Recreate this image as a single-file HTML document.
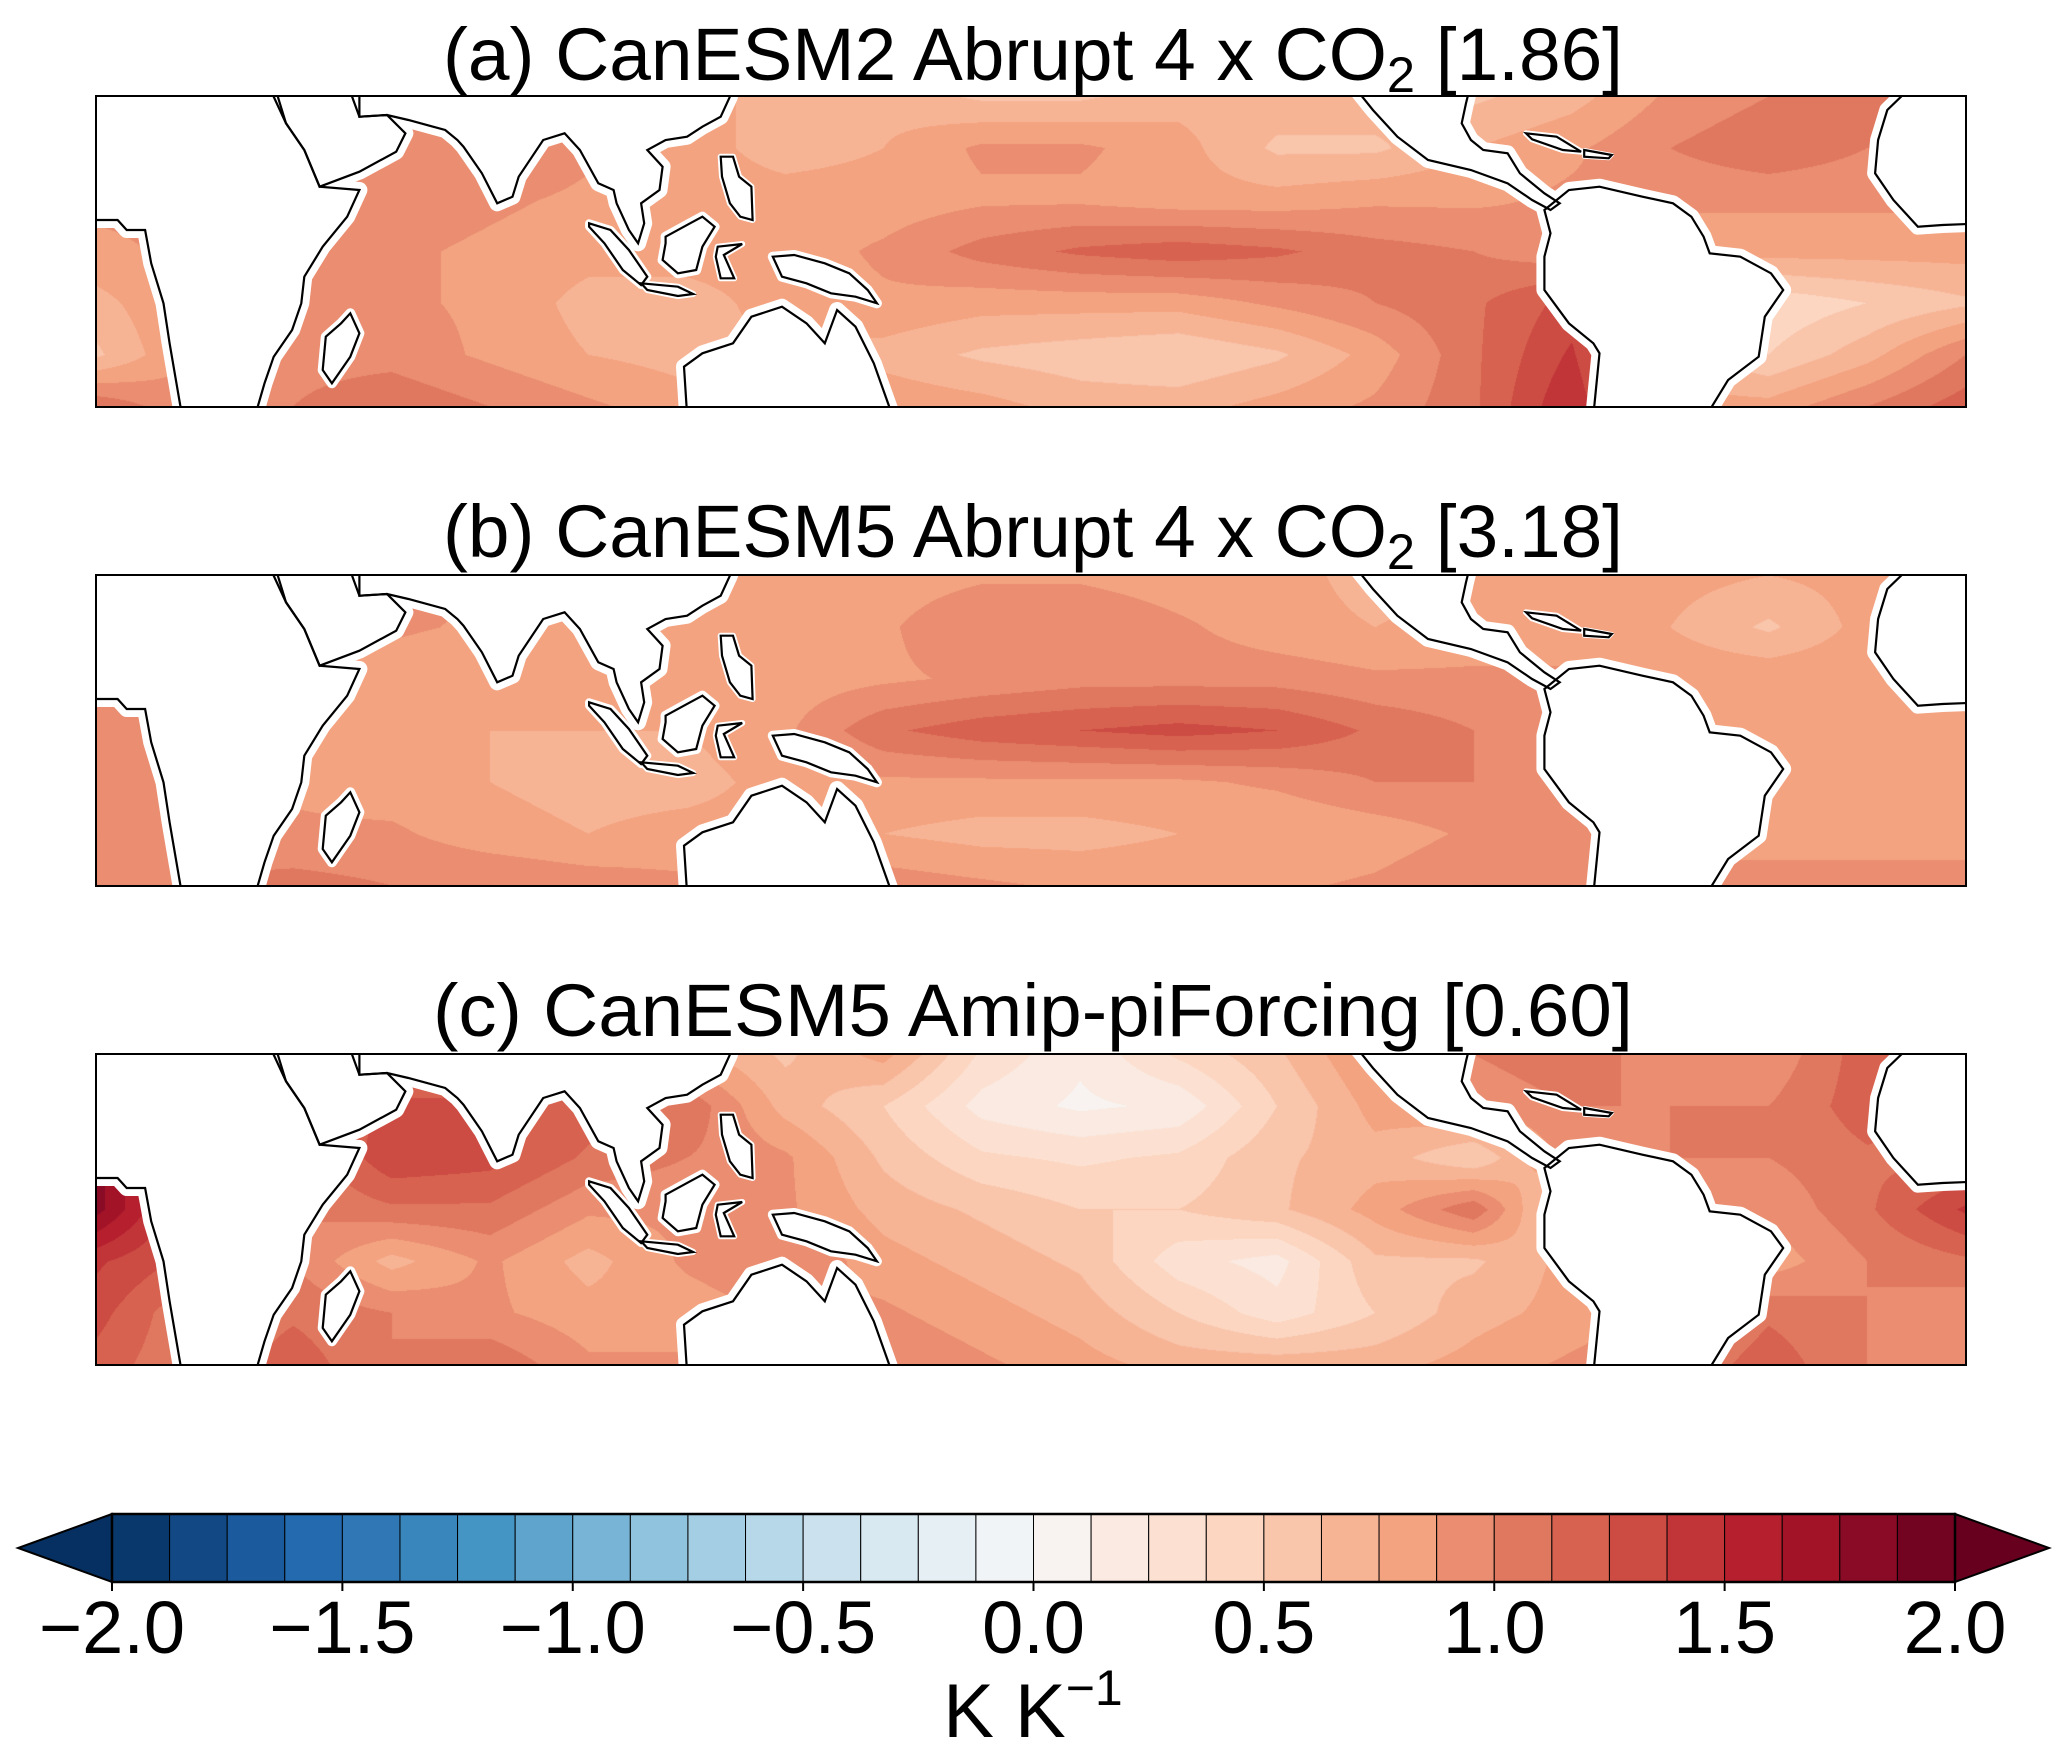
<!DOCTYPE html>
<html><head><meta charset="utf-8"><style>
html,body{margin:0;padding:0;background:#fff;}
#root{position:relative;width:2067px;height:1749px;overflow:hidden;font-family:"Liberation Sans",sans-serif;}
canvas{position:absolute;}
svg{position:absolute;left:0;top:0;}
</style></head><body>
<div id="root">
<canvas id="cva" width="1870" height="311" style="left:96px;top:96px"></canvas>
<canvas id="cvb" width="1870" height="311" style="left:96px;top:575px"></canvas>
<canvas id="cvc" width="1870" height="311" style="left:96px;top:1054px"></canvas>
<svg id="ov" width="2067" height="1749">
<text x="1033" y="80" font-size="74" text-anchor="middle" textLength="1180" lengthAdjust="spacingAndGlyphs">(a) CanESM2 Abrupt 4 x CO<tspan font-size="50" dy="12">2</tspan><tspan dy="-12"> [1.86]</tspan></text>
<text x="1033" y="557" font-size="74" text-anchor="middle" textLength="1180" lengthAdjust="spacingAndGlyphs">(b) CanESM5 Abrupt 4 x CO<tspan font-size="50" dy="12">2</tspan><tspan dy="-12"> [3.18]</tspan></text>
<text x="1033" y="1036" font-size="74" text-anchor="middle" textLength="1200" lengthAdjust="spacingAndGlyphs">(c) CanESM5 Amip-piForcing [0.60]</text>
<g id="cbar"></g>
<text x="1033" y="1737" font-size="76" text-anchor="middle">K K<tspan font-size="50" dy="-32">−1</tspan></text>
</svg>
</div>
<script>
const fieldA=[
[0.9,0.9,0.9,0.9,0.9,0.9,0.8,0.7,0.7,0.6,0.6,0.7,0.7,0.7,0.6,0.7,0.9,1.0,1.0,1.0],
[0.9,0.9,0.9,1.0,1.0,0.9,0.8,0.7,0.75,0.9,0.9,0.8,0.6,0.6,0.75,0.85,1.0,1.1,1.0,1.0],
[0.9,0.9,0.9,0.95,0.9,0.85,0.8,0.8,0.8,0.85,0.85,0.8,0.8,0.85,0.85,0.9,0.9,0.9,0.9,0.9],
[0.85,0.9,0.9,0.9,0.85,0.8,0.8,0.8,0.9,1.05,1.15,1.2,1.15,1.05,1.0,0.9,0.8,0.8,0.8,0.8],
[0.7,0.9,0.9,0.9,0.85,0.7,0.7,0.8,0.85,0.8,0.8,0.8,0.9,1.0,1.1,1.3,0.7,0.4,0.5,0.6],
[0.6,0.9,0.95,0.95,0.85,0.75,0.7,0.75,0.7,0.6,0.55,0.5,0.6,0.8,1.1,1.4,0.7,0.5,0.7,1.0],
[1.1,0.9,1.0,1.1,1.0,0.9,0.8,0.8,0.85,0.8,0.7,0.7,0.8,0.9,1.1,1.5,0.8,0.8,1.0,1.2]];
const fieldB=[
[0.9,0.9,0.9,0.9,0.9,0.9,0.8,0.8,0.8,0.85,0.85,0.8,0.8,0.7,0.75,0.8,0.8,0.75,0.8,0.9],
[0.9,0.95,0.9,0.9,0.85,0.85,0.8,0.8,0.85,1.0,1.0,0.9,0.8,0.75,0.8,0.8,0.75,0.6,0.8,0.9],
[0.95,0.9,0.85,0.8,0.75,0.75,0.75,0.8,0.85,0.9,0.95,0.95,0.95,0.9,0.9,0.9,0.85,0.85,0.85,0.85],
[0.9,0.9,0.85,0.75,0.75,0.75,0.75,0.85,1.1,1.2,1.25,1.3,1.25,1.1,1.0,0.9,0.85,0.85,0.85,0.85],
[0.95,0.9,0.85,0.8,0.75,0.7,0.7,0.8,0.85,0.85,0.85,0.85,0.9,1.0,1.0,0.9,0.85,0.85,0.8,0.8],
[1.0,0.95,0.9,0.9,0.8,0.75,0.8,0.8,0.75,0.7,0.7,0.75,0.75,0.8,0.9,0.9,0.85,0.85,0.85,0.85],
[1.0,1.0,1.05,1.0,1.0,0.95,0.9,0.9,0.95,0.9,0.85,0.85,0.85,0.9,1.0,1.0,0.9,0.9,0.9,0.9]];
const fieldC=[
[0.9,0.9,0.9,1.0,1.0,1.2,0.8,0.6,0.8,0.35,0.15,0.4,0.6,0.9,1.0,1.1,0.9,0.9,1.2,1.0],
[1.0,0.9,1.0,1.3,1.3,1.2,1.1,0.7,0.5,0.2,0.1,0.15,0.5,0.8,0.9,1.0,1.0,1.0,1.2,1.0],
[1.8,1.2,1.0,1.35,1.3,1.1,1.0,0.9,0.6,0.4,0.35,0.4,0.6,0.7,0.5,0.95,1.0,1.0,1.1,1.1],
[1.8,1.2,1.0,1.1,1.1,0.9,0.9,0.9,0.7,0.6,0.5,0.5,0.6,0.8,1.1,0.4,0.9,0.9,1.1,1.4],
[1.4,1.2,1.0,0.7,0.9,0.7,0.9,1.0,0.8,0.7,0.6,0.3,0.2,0.6,0.6,0.8,0.9,0.8,1.0,1.1],
[1.3,1.0,1.1,1.0,0.9,0.8,0.8,0.9,0.9,0.8,0.7,0.5,0.3,0.5,0.7,0.8,0.9,1.1,1.0,0.9],
[1.2,1.0,1.2,1.0,1.1,0.9,0.9,1.0,1.0,0.9,0.8,0.7,0.7,0.7,0.8,0.9,1.0,1.2,1.0,0.9]];
const tickValues=[-2.0,-1.5,-1.0,-0.5,0.0,0.5,1.0,1.5,2.0];
const tickLabels=["−2.0","−1.5","−1.0","−0.5","0.0","0.5","1.0","1.5","2.0"];
const levelStep=0.125, vmin=-2, vmax=2;

const anchors=["#053061","#2166ac","#4393c3","#92c5de","#d1e5f0","#f7f7f7","#fddbc7","#f4a582","#d6604d","#b2182b","#67001f"];
function hex(h){return [1,3,5].map(i=>parseInt(h.substr(i,2),16));}
const A=anchors.map(hex);
function cmap(v){let t=(v-vmin)/(vmax-vmin)*10;t=Math.max(0,Math.min(10,t));let i=Math.min(9,Math.floor(t)),f=t-i;
 return A[i].map((c,k)=>Math.round(c+(A[i+1][k]-c)*f));}
function binColor(v){let b=Math.floor((v-vmin)/levelStep);b=Math.max(0,Math.min(31,b));return cmap(vmin+(b+0.5)*levelStep);}
function drawField(id,grid){
 const cv=document.getElementById(id),ctx=cv.getContext('2d'),W=cv.width,H=cv.height;
 const im=ctx.createImageData(W,H),R=grid.length,C=grid[0].length;
 for(let y=0;y<H;y++){const gy=y/(H-1)*(R-1),j=Math.min(R-2,Math.floor(gy)),fy=gy-j;
  for(let x=0;x<W;x++){const gx=x/(W-1)*(C-1),i=Math.min(C-2,Math.floor(gx)),fx=gx-i;
   const v=(grid[j][i]*(1-fx)+grid[j][i+1]*fx)*(1-fy)+(grid[j+1][i]*(1-fx)+grid[j+1][i+1]*fx)*fy;
   const c=binColor(v),p=(y*W+x)*4;im.data[p]=c[0];im.data[p+1]=c[1];im.data[p+2]=c[2];im.data[p+3]=255;}}
 ctx.putImageData(im,0,0);}
drawField('cva',fieldA);drawField('cvb',fieldB);drawField('cvc',fieldC);

function L(pts){return pts.map(p=>[p[0]/1.633-6,p[1]/3-6]);}
function R2(pts){return pts.map(p=>[p[0]/1.633+934,p[1]/3-6]);}
const lands=[
 ['africa-arabia',L([[-20,-20],[300,-20],[300,20],[320,100],[350,180],[375,290],[440,300],[420,380],[380,470],[350,560],[345,640],[330,720],[300,800],[285,880],[270,975],[150,975],[130,760],[120,640],[100,520],[90,420],[60,420],[45,390],[10,390],[-20,390]]),16],
 ['arabia',L([[300,-20],[420,-20],[440,80],[485,75],[515,130],[500,185],[440,245],[375,290],[350,180],[320,100]]),16],
 ['asia',L([[440,-20],[440,80],[485,75],[520,90],[580,120],[600,150],[610,170],[640,250],[665,340],[690,320],[700,260],[740,150],[775,130],[800,180],[830,280],[855,300],[860,340],[880,420],[895,460],[905,400],[900,340],[930,300],[935,230],[910,180],[940,150],[975,140],[1000,110],[1030,80],[1045,20],[1050,-20]]),16],
 ['madagascar',L([[425,670],[440,730],[425,800],[395,880],[380,840],[385,740],[410,700]]),10],
 ['sumatra',L([[815,400],[850,420],[880,480],[910,560],[900,585],[870,540],[840,460],[815,410]]),8],
 ['java',L([[900,580],[960,590],[985,612],[960,618],[910,600]]),6],
 ['borneo',L([[940,440],[980,400],[1000,380],[1020,410],[1000,470],[990,540],[960,550],[935,510],[940,460]]),10],
 ['sulawesi',L([[1025,470],[1065,462],[1035,495],[1052,565],[1030,565],[1022,500]]),6],
 ['philippines',L([[1030,200],[1050,200],[1060,260],[1080,290],[1082,390],[1062,380],[1045,340],[1032,260]]),6],
 ['new-guinea',L([[1115,500],[1150,495],[1200,520],[1240,550],[1270,600],[1285,640],[1250,620],[1210,610],[1170,580],[1130,560]]),10],
 ['australia',L([[975,975],[970,830],[1000,790],[1050,760],[1080,680],[1130,650],[1170,700],[1200,760],[1220,660],[1250,710],[1280,820],[1310,975]]),16],
 ['north-america',R2([[525,-20],[560,60],[600,140],[650,210],[720,240],[780,280],[820,330],[850,360],[865,340],[840,310],[800,250],[780,190],[740,180],[720,150],[705,100],[712,40],[720,-20]]),16],
 ['cuba',R2([[810,130],[860,140],[900,185],[870,180],[820,148]]),6],
 ['hispaniola',R2([[905,180],[950,195],[945,205],[905,200]]),4],
 ['south-america',R2([[840,360],[880,300],[930,290],[1000,320],[1050,340],[1080,380],[1100,440],[1110,490],[1160,500],[1210,550],[1230,600],[1200,680],[1190,800],[1140,870],[1105,975],[920,975],[930,790],[920,760],[880,700],[840,600],[840,500],[850,430]]),16],
 ['west-africa',R2([[1445,-20],[1400,60],[1385,150],[1380,250],[1410,330],[1450,410],[1490,405],[1560,400],[1560,-20]]),16]
];
const ov=document.getElementById('ov');const NS='http://www.w3.org/2000/svg';
const panelTops=[96,575,1054],panelNames=['a','b','c'],PW=1870;
panelTops.forEach((top,pi)=>{
 const g=document.createElementNS(NS,'g');
 
 
 g.setAttribute('transform','translate(96,'+top+')');
 const cp=document.createElementNS(NS,'clipPath');cp.setAttribute('id','clip'+pi);
 const cr=document.createElementNS(NS,'rect');cr.setAttribute('width',PW);cr.setAttribute('height',311);cp.appendChild(cr);g.appendChild(cp);
 const inner=document.createElementNS(NS,'g');inner.setAttribute('clip-path','url(#clip'+pi+')');
 lands.forEach(([nm,pts,sw])=>{const d=pts.map(p=>p[0].toFixed(1)+','+p[1].toFixed(1)).join(' ');
  const w=document.createElementNS(NS,'polygon');w.setAttribute('points',d);w.setAttribute('fill','#fff');w.setAttribute('stroke','#fff');w.setAttribute('stroke-width',sw);w.setAttribute('stroke-linejoin','round');
  
  
  inner.appendChild(w);});
 lands.forEach(([nm,pts])=>{const d=pts.map(p=>p[0].toFixed(1)+','+p[1].toFixed(1)).join(' ');
  const b=document.createElementNS(NS,'polygon');b.setAttribute('points',d);b.setAttribute('fill','none');b.setAttribute('stroke','#000');b.setAttribute('stroke-width','2.2');
  
  
  inner.appendChild(b);});
 g.appendChild(inner);
 const fr=document.createElementNS(NS,'rect');fr.setAttribute('width',PW);fr.setAttribute('height',311);fr.setAttribute('fill','none');fr.setAttribute('stroke','#000');fr.setAttribute('stroke-width','2');
 
 
 g.appendChild(fr);ov.appendChild(g);
});
const cb=document.getElementById('cbar');const bx0=112,bx1=1955,by0=1514,by1=1582;
function xs(v){return bx0+(v-vmin)/(vmax-vmin)*(bx1-bx0);}
function rgb(c){return 'rgb('+c.join(',')+')';}
const la=document.createElementNS(NS,'polygon');la.setAttribute('points',`${bx0},${by0} 18,${(by0+by1)/2} ${bx0},${by1}`);la.setAttribute('fill',rgb(cmap(-2)));la.setAttribute('stroke','#000');la.setAttribute('stroke-width','2');


cb.appendChild(la);
const ra=document.createElementNS(NS,'polygon');ra.setAttribute('points',`${bx1},${by0} 2049,${(by0+by1)/2} ${bx1},${by1}`);ra.setAttribute('fill',rgb(cmap(2)));ra.setAttribute('stroke','#000');ra.setAttribute('stroke-width','2');


cb.appendChild(ra);
for(let v=vmin;v<vmax-1e-9;v+=levelStep){const r=document.createElementNS(NS,'rect');
 r.setAttribute('x',xs(v));r.setAttribute('y',by0);r.setAttribute('width',xs(v+levelStep)-xs(v));r.setAttribute('height',by1-by0);
 r.setAttribute('fill',rgb(binColor(v+levelStep/2)));r.setAttribute('stroke','#000');r.setAttribute('stroke-width','1');
 
 
 cb.appendChild(r);}
const fr=document.createElementNS(NS,'rect');fr.setAttribute('x',bx0);fr.setAttribute('y',by0);fr.setAttribute('width',bx1-bx0);fr.setAttribute('height',by1-by0);fr.setAttribute('fill','none');fr.setAttribute('stroke','#000');fr.setAttribute('stroke-width','2.5');


cb.appendChild(fr);
tickValues.forEach((v,i)=>{const t=document.createElementNS(NS,'line');t.setAttribute('x1',xs(v));t.setAttribute('x2',xs(v));t.setAttribute('y1',by1);t.setAttribute('y2',by1+9);t.setAttribute('stroke','#000');t.setAttribute('stroke-width','2');
 
 
 cb.appendChild(t);
 const tx=document.createElementNS(NS,'text');tx.setAttribute('x',xs(v));tx.setAttribute('y',1653);tx.setAttribute('font-size','74');tx.setAttribute('text-anchor','middle');tx.textContent=tickLabels[i];
 
 
 cb.appendChild(tx);});
</script>
</body></html>
